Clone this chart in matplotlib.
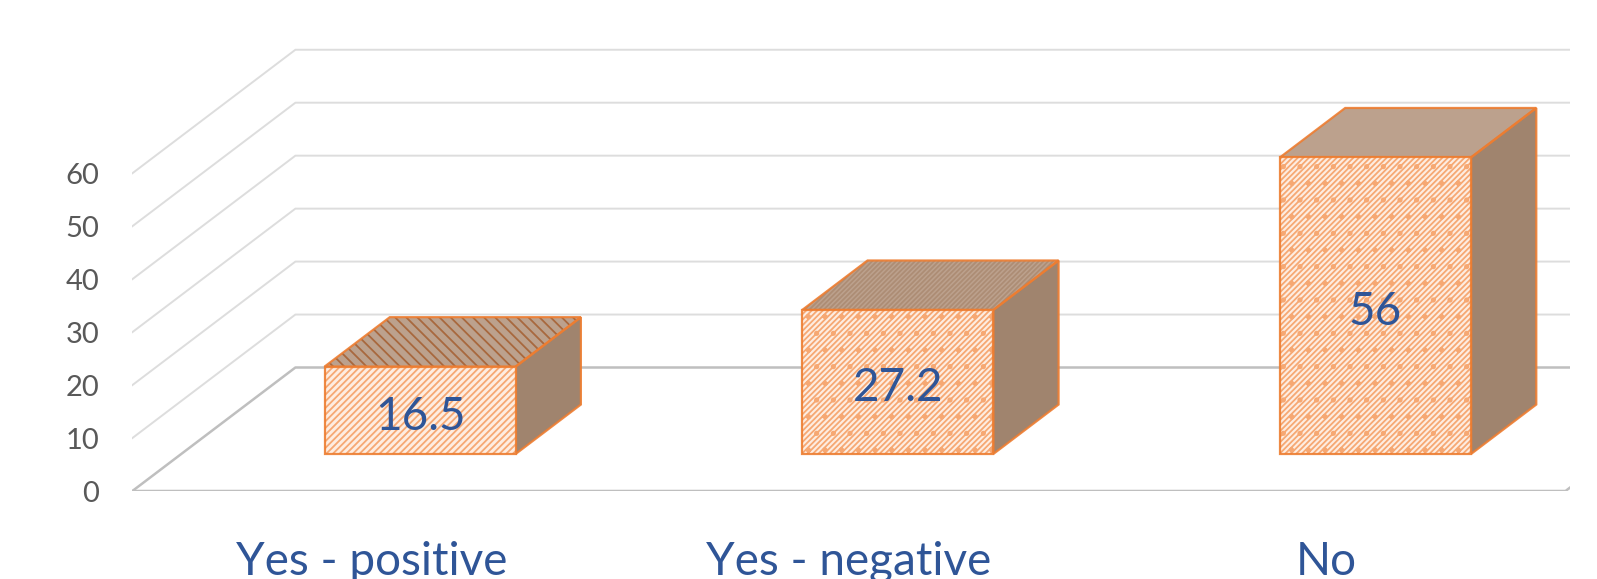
import matplotlib
matplotlib.use('Agg')
import matplotlib.pyplot as plt
import numpy as np
from matplotlib.patches import Polygon

categories = ['Yes - positive', 'Yes - negative', 'No']
values = [16.5, 27.2, 56]
value_labels = ['16.5', '27.2', '56']
y_ticks = [0, 10, 20, 30, 40, 50, 60]

front_hatch = ['/////', '//////.', '//////.']
top_hatch = ['\\\\\\', '///////', '']
top_hatch_col = ['#A8683E', '#AD8D75', '#B89C87']

W, H = 1597, 579
# plot box in pixels
left_px, right_px = 132.4, 1570
floor_px = 491
px_per_cat = 477.7
px_per_val = 5.296

# oblique shift of a point going from the front of the floor to the back
depth_x = 163 / px_per_cat
depth_y = 123.5 / px_per_val
bar_width = 0.4
d0, d1 = 0.3, 0.7

ORANGE = '#ED7D31'
BLUE = '#2F5597'


def proj(x, v, d):
    return (x + d * depth_x, v + d * depth_y)


def face(points, fc, hatch_col=None, hatch='', z=3):
    # fill and hatch go on one patch so the outline can keep its own colour
    ax.add_patch(Polygon(points, fc=fc, ec=hatch_col or fc, lw=0, hatch=hatch, zorder=z))
    ax.add_patch(Polygon(points, fc='none', ec=ORANGE, lw=1.6, alpha=0.9, zorder=z + 0.5))


plt.rcParams['font.family'] = ['Lato', 'DejaVu Sans']
plt.rcParams['hatch.linewidth'] = 1.3

fig = plt.figure(figsize=(W / 100, H / 100), dpi=100)
ax = fig.add_axes([left_px / W, (H - floor_px) / H, (right_px - left_px) / W, (floor_px - 40) / H])
ax.set_xlim(-0.5, -0.5 + (right_px - left_px) / px_per_cat)
ax.set_ylim(0, (floor_px - 40) / px_per_val)
for s in ax.spines.values():
    s.set_visible(False)

x_end = len(categories) - 0.5

# walls first: side wall diagonals and back wall lines
for t in y_ticks:
    col, lw = ('#BFBFBF', 1.8) if t == 0 else ('#DDDDDD', 1.4)
    p0 = proj(-0.5, t, 0)
    p1 = proj(-0.5, t, 1)
    p2 = proj(x_end, t, 1)
    ax.plot([p0[0], p1[0], p2[0]], [p0[1], p1[1], p2[1]], color=col, lw=lw, zorder=1)

# floor front edge and the short right edge
p0 = proj(-0.5, 0, 0)
p1 = proj(x_end, 0, 0)
p2 = proj(x_end, 0, 1)
ax.plot([p0[0], p1[0], p2[0]], [p0[1], p1[1], p2[1]], color='#BFBFBF', lw=1.8, zorder=1)

# boxes
for i, v in enumerate(values):
    xl, xr = i - bar_width / 2, i + bar_width / 2
    front = [proj(xl, 0, d0), proj(xr, 0, d0), proj(xr, v, d0), proj(xl, v, d0)]
    side = [proj(xr, 0, d0), proj(xr, 0, d1), proj(xr, v, d1), proj(xr, v, d0)]
    top = [proj(xl, v, d0), proj(xr, v, d0), proj(xr, v, d1), proj(xl, v, d1)]
    face(side, '#A0846E', z=3)
    face(top, '#BCA18D', top_hatch_col[i], top_hatch[i], z=3)
    face(front, '#FEEDE1', '#F6A873', front_hatch[i], z=4)
    # labels sit a little under the middle of the front face
    cx, cy = proj(i, v / 2, d0)
    ax.text(cx, cy - 1.2, value_labels[i], color=BLUE, fontsize=33,
            ha='center', va='center', zorder=5)

ax.set_xticks(range(len(categories)))
ax.set_xticklabels(categories, fontsize=33, color=BLUE)
ax.set_yticks(y_ticks)
ax.set_yticklabels([str(t) for t in y_ticks], fontsize=21, color='#595959', va='center_baseline')
ax.tick_params(axis='x', length=0, pad=36)
ax.tick_params(axis='y', length=0, pad=24)

fig.savefig('out.png', dpi=100)
